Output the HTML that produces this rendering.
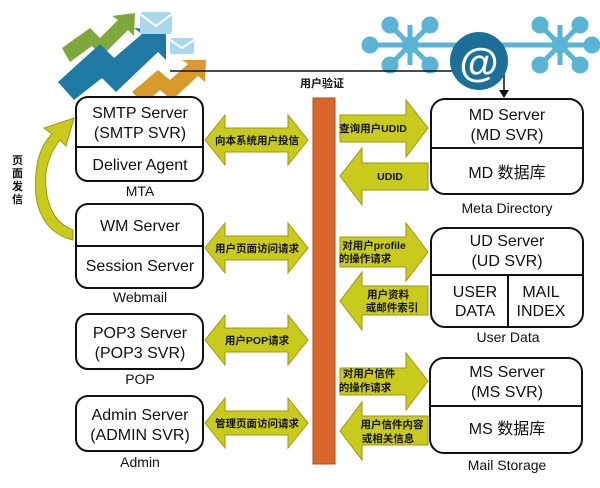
<!DOCTYPE html>
<html><head><meta charset="utf-8"><style>
body{margin:0;background:#fff}
svg{display:block}
text{font-family:"Liberation Sans","Noto Sans CJK SC",sans-serif;fill:#111}
.b{fill:#fff;stroke:#111;stroke-width:2}
.a{fill:#c9cb1c;stroke:#9a9a10;stroke-width:1}
.t{font-size:16px;text-anchor:middle}
.s{font-size:10.5px;font-weight:bold;text-anchor:middle}
.l{font-size:14px;text-anchor:middle}
</style></head><body>
<svg width="600" height="488" viewBox="0 0 600 488">
<!-- decorations top-left -->
<polygon points="62,48 90,28 100,38 118,20 112,16 135,13 134,36 128,30 102,56 92,46 70,62" fill="#7fa83a"/>
<polygon points="58,82 100,44 114,58 142,34 134,28 166,30 166,60 158,52 116,92 102,78 74,100" fill="#1f7aa3"/>
<polygon points="132,92 158,70 170,80 188,64 182,60 206,60 205,82 198,76 172,100 160,90 144,104" fill="#d89a2a"/>
<rect x="140" y="12" width="32" height="22" rx="3" fill="#a9d8ee"/>
<polyline points="140,14 156,26 172,14" fill="none" stroke="#fff" stroke-width="2"/>
<rect x="170" y="38" width="24" height="16" rx="2" fill="#a9d8ee"/>
<polyline points="170,40 182,48 194,40" fill="none" stroke="#fff" stroke-width="2"/>
<!-- network -->
<g stroke="#5ab4d6" stroke-width="5" fill="#5ab4d6">
<line x1="390" y1="25" x2="430" y2="65"/><line x1="430" y1="25" x2="390" y2="65"/>
<line x1="370" y1="45" x2="450" y2="45"/><line x1="410" y1="25" x2="410" y2="65"/>
<line x1="540" y1="25" x2="580" y2="65"/><line x1="580" y1="25" x2="540" y2="65"/>
<line x1="520" y1="45" x2="595" y2="45"/><line x1="560" y1="25" x2="560" y2="65"/>
<line x1="450" y1="45" x2="520" y2="45"/>
<circle cx="390" cy="25" r="6"/><circle cx="430" cy="25" r="6"/><circle cx="390" cy="65" r="6"/><circle cx="430" cy="65" r="6"/>
<circle cx="370" cy="45" r="6"/><circle cx="410" cy="45" r="6"/>
<circle cx="540" cy="25" r="6"/><circle cx="580" cy="25" r="6"/><circle cx="540" cy="65" r="6"/><circle cx="580" cy="65" r="6"/>
<circle cx="560" cy="45" r="6"/><circle cx="592" cy="45" r="6"/>
</g>
<!-- top line -->
<line x1="170" y1="71" x2="504" y2="71" stroke="#111" stroke-width="1.5"/>
<line x1="504" y1="71" x2="504" y2="92" stroke="#111" stroke-width="1.5"/>
<polygon points="499,90 509,90 504,98" fill="#111"/>
<circle cx="479" cy="61" r="29" fill="#1c6f97"/>
<text x="479" y="76" style="font-size:40px;font-weight:bold;fill:#fff;text-anchor:middle">@</text>
<text x="322" y="87" style="font-size:11px;font-weight:bold;text-anchor:middle">用户验证</text>
<!-- orange bar -->
<rect x="313" y="98" width="22" height="366" fill="#d9662a" stroke="#b0501e"/>
<!-- curved arrow -->
<path d="M73,240 C40,232 30,200 38,160 C42,145 48,138 52,134 L44,128 L74,118 L66,146 L60,140 C52,150 48,160 46,172 C44,200 52,222 73,230 Z" class="a"/>
<text style="font-size:11px;font-weight:bold" x="12" y="164">页</text>
<text style="font-size:11px;font-weight:bold" x="12" y="177">面</text>
<text style="font-size:11px;font-weight:bold" x="12" y="190">发</text>
<text style="font-size:11px;font-weight:bold" x="12" y="203">信</text>
<!-- left boxes -->
<rect class="b" x="76" y="97" width="127" height="84" rx="12"/><line x1="76" y1="147" x2="203" y2="147" stroke="#111" stroke-width="2"/>
<text class="t" x="140" y="118">SMTP Server</text><text class="t" x="140" y="138">(SMTP SVR)</text><text class="t" x="140" y="170">Deliver Agent</text>
<text class="l" x="140" y="196">MTA</text>
<rect class="b" x="76" y="204" width="127" height="84" rx="12"/><line x1="76" y1="246" x2="203" y2="246" stroke="#111" stroke-width="2"/>
<text class="t" x="140" y="231">WM Server</text><text class="t" x="140" y="271">Session Server</text>
<text class="l" x="140" y="302">Webmail</text>
<rect class="b" x="76" y="314" width="127" height="55" rx="12"/>
<text class="t" x="140" y="338">POP3 Server</text><text class="t" x="140" y="358">(POP3 SVR)</text>
<text class="l" x="140" y="384">POP</text>
<rect class="b" x="76" y="396" width="127" height="55" rx="12"/>
<text class="t" x="140" y="420">Admin Server</text><text class="t" x="140" y="440">(ADMIN SVR)</text>
<text class="l" x="140" y="467">Admin</text>
<!-- left double arrows -->
<g id="da">
<polygon class="a" points="205,140 225,115 225,128 288,128 288,115 308,140 288,165 288,152 225,152 225,165"/>
</g>
<text class="s" x="257" y="144">向本系统用户投信</text>
<use href="#da" y="108"/><text class="s" x="257" y="252">用户页面访问请求</text>
<use href="#da" y="200"/><text class="s" x="257" y="344">用户POP请求</text>
<use href="#da" y="283"/><text class="s" x="257" y="427">管理页面访问请求</text>
<!-- right arrows -->
<polygon class="a" points="340,115 406,115 406,100 428,128 406,157 406,142 340,142"/>
<text class="s" x="373" y="132">查询用户UDID</text>
<polygon class="a" points="428,163 362,163 362,148 340,176 362,205 362,190 428,190"/>
<text class="s" x="390" y="180">UDID</text>
<polygon class="a" points="340,237 406,237 406,223 428,252 406,281 406,267 340,267"/>
<text class="s" x="374" y="249">对用户profile</text><text class="s" x="365" y="262">的操作请求</text>
<polygon class="a" points="428,286 362,286 362,272 340,301 362,330 362,315 428,315"/>
<text class="s" x="388" y="298">用户资料</text><text class="s" x="392" y="311">或邮件索引</text>
<polygon class="a" points="340,368 406,368 406,353 428,381 406,410 406,395 340,395"/>
<text class="s" x="369" y="377">对用户信件</text><text class="s" x="365" y="391">的操作请求</text>
<polygon class="a" points="428,416 362,416 362,402 340,431 362,460 362,445 428,445"/>
<text class="s" x="392" y="428">用户信件内容</text><text class="s" x="388" y="442">或相关信息</text>
<!-- right boxes -->
<rect class="b" x="431" y="99" width="152" height="95" rx="14"/><line x1="431" y1="148" x2="583" y2="148" stroke="#111" stroke-width="2"/>
<text class="t" x="507" y="120">MD Server</text><text class="t" x="507" y="140">(MD SVR)</text><text class="t" x="507" y="178">MD 数据库</text>
<text class="l" x="507" y="213">Meta  Directory</text>
<rect class="b" x="431" y="228" width="152" height="99" rx="14"/><line x1="431" y1="275" x2="583" y2="275" stroke="#111" stroke-width="2"/><line x1="508" y1="275" x2="508" y2="327" stroke="#111" stroke-width="2"/>
<text class="t" x="507" y="246">UD Server</text><text class="t" x="507" y="266">(UD SVR)</text>
<text class="t" x="475" y="297">USER</text><text class="t" x="475" y="316">DATA</text>
<text class="t" x="541" y="297">MAIL</text><text class="t" x="541" y="316">INDEX</text>
<text class="l" x="508" y="342">User Data</text>
<rect class="b" x="430" y="358" width="152" height="95" rx="14"/><line x1="430" y1="406" x2="582" y2="406" stroke="#111" stroke-width="2"/>
<text class="t" x="507" y="377">MS Server</text><text class="t" x="507" y="397">(MS SVR)</text><text class="t" x="507" y="434">MS 数据库</text>
<text class="l" x="507" y="470">Mail  Storage</text>
</svg>
</body></html>
